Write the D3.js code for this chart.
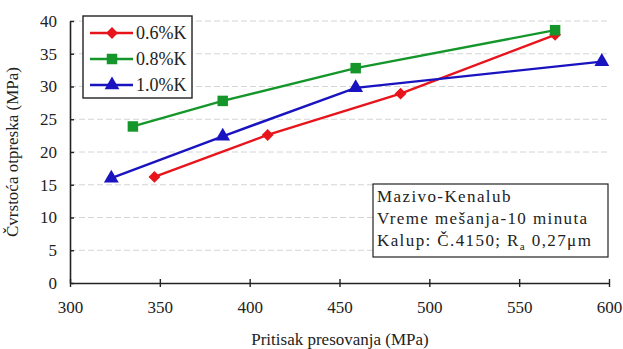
<!DOCTYPE html>
<html>
<head>
<meta charset="utf-8">
<script src="https://cdn.jsdelivr.net/npm/d3@7"></script>
<style>
  body { margin: 0; background: #fff; }
  svg text { font-family: "Liberation Serif", "DejaVu Serif", serif; fill: #222; }
</style>
</head>
<body>
<div id="chart"></div>
<script>
// data
var seriesNames = ["0.6%K", "0.8%K", "1.0%K"];
var colors = ["#e8141c", "#14962a", "#1a14c0"];
var symbols = [d3.symbolSquare, d3.symbolSquare, d3.symbolTriangle];

var pressK06 = [347, 410, 484, 570];
var strengthK06 = [16.2, 22.6, 28.9, 37.9];
var pressK08 = [335, 385, 459, 570];
var strengthK08 = [23.9, 27.8, 32.8, 38.6];
var pressK10 = [323, 385, 459, 596];
var strengthK10 = [16.0, 22.4, 29.8, 33.8];

var xTicks = [300, 350, 400, 450, 500, 550, 600];
var yTicks = [0, 5, 10, 15, 20, 25, 30, 35, 40];
var noteLines = ["Mazivo-Kenalub", "Vreme mešanja-10 minuta"];

var series = [
  { name: seriesNames[0], x: pressK06, y: strengthK06 },
  { name: seriesNames[1], x: pressK08, y: strengthK08 },
  { name: seriesNames[2], x: pressK10, y: strengthK10 }
];

var margin = {top: 21, right: 14, bottom: 66, left: 70},
    width = 623 - margin.left - margin.right,
    height = 349 - margin.top - margin.bottom;

var svg = d3.select("#chart").append("svg")
    .attr("width", 623)
    .attr("height", 349)
  .append("g")
    .attr("transform", "translate(" + margin.left + "," + margin.top + ")");

var x = d3.scaleLinear().domain([300, 600]).range([0, 539]);
var y = d3.scaleLinear().domain([0, 40]).range([height, 0]);

// faint grid lines
svg.selectAll(".grid")
  .data(yTicks.slice(1))
  .enter().append("line")
  .attr("class", "grid")
  .attr("x1", 0).attr("x2", x(600))
  .attr("y1", d => y(d)).attr("y2", d => y(d))
  .style("stroke", "#d4d4d4")
  .style("stroke-width", 1)
  .style("stroke-dasharray", "6,3");

// axes with crossing ticks
var xAxis = svg.append("g")
  .attr("transform", "translate(0," + height + ")")
  .call(d3.axisBottom(x).tickValues(xTicks).tickSize(4).tickPadding(14).tickSizeOuter(0));
xAxis.selectAll(".tick line").attr("y1", -4);

var yAxis = svg.append("g")
  .call(d3.axisLeft(y).tickValues(yTicks).tickSize(5).tickPadding(8).tickSizeOuter(0));
yAxis.selectAll(".tick line").attr("x2", 4);

svg.selectAll(".domain").style("stroke", "#222").style("stroke-width", 1.6);
svg.selectAll(".tick line").style("stroke", "#222").style("stroke-width", 1.4);
svg.selectAll(".tick text")
  .style("font-size", "17px")
  .style("font-family", "Liberation Serif, serif")
  .style("fill", "#222");

// axis titles
svg.append("text")
  .attr("x", 270).attr("y", height + 62)
  .style("text-anchor", "middle")
  .style("font-size", "17px")
  .text("Pritisak presovanja (MPa)");

svg.append("text")
  .attr("transform", "translate(-52," + (height / 2) + ") rotate(-90)")
  .style("text-anchor", "middle")
  .style("font-size", "17px")
  .text("Čvrstoća otpreska (MPa)");

// lines and markers
var line = d3.line().x(d => x(d[0])).y(d => y(d[1]));
var markerSize = [70, 110, 95];
var markerRot = [45, 0, 0];

series.forEach(function(s, i) {
  var pts = s.x.map((v, j) => [v, s.y[j]]);
  svg.append("path")
    .datum(pts)
    .attr("d", line)
    .style("fill", "none")
    .style("stroke", colors[i])
    .style("stroke-width", 2.4);
  svg.selectAll(".m" + i)
    .data(pts)
    .enter().append("path")
    .attr("class", "m" + i)
    .attr("transform", d => "translate(" + x(d[0]) + "," + y(d[1]) + ") rotate(" + markerRot[i] + ")")
    .attr("d", d3.symbol().type(symbols[i]).size(markerSize[i]))
    .style("fill", colors[i]);
});

// legend
var legend = svg.append("g").attr("transform", "translate(13,-5)");
legend.append("rect")
  .attr("width", 109).attr("height", 82)
  .style("fill", "#fff")
  .style("stroke", "#222")
  .style("stroke-width", 1.4);

series.forEach(function(s, i) {
  var ly = 17 + i * 26;
  legend.append("line")
    .attr("x1", 7).attr("x2", 50)
    .attr("y1", ly).attr("y2", ly)
    .style("stroke", colors[i])
    .style("stroke-width", 2.4);
  legend.append("path")
    .attr("transform", "translate(29," + ly + ") rotate(" + markerRot[i] + ")")
    .attr("d", d3.symbol().type(symbols[i]).size(markerSize[i]))
    .style("fill", colors[i]);
  legend.append("text")
    .attr("x", 53).attr("y", ly + 6)
    .style("font-size", "18px")
    .text(s.name);
});

// note box
var note = svg.append("g").attr("transform", "translate(303,163)");
note.append("rect")
  .attr("width", 235).attr("height", 73)
  .style("fill", "#fff")
  .style("stroke", "#222")
  .style("stroke-width", 1.2);

noteLines.forEach(function(t, i) {
  note.append("text")
    .attr("x", 4).attr("y", 18 + i * 22)
    .style("font-size", "17px")
    .style("letter-spacing", "1.4px")
    .text(t);
});
var last = note.append("text")
  .attr("x", 4).attr("y", 62)
  .style("font-size", "17px")
  .style("letter-spacing", "1.4px");
last.append("tspan").text("Kalup: Č.4150; R");
last.append("tspan").attr("dy", 4).style("font-size", "11px").text("a");
last.append("tspan").attr("dy", -4).text(" 0,27μm");
</script>
</body>
</html>
